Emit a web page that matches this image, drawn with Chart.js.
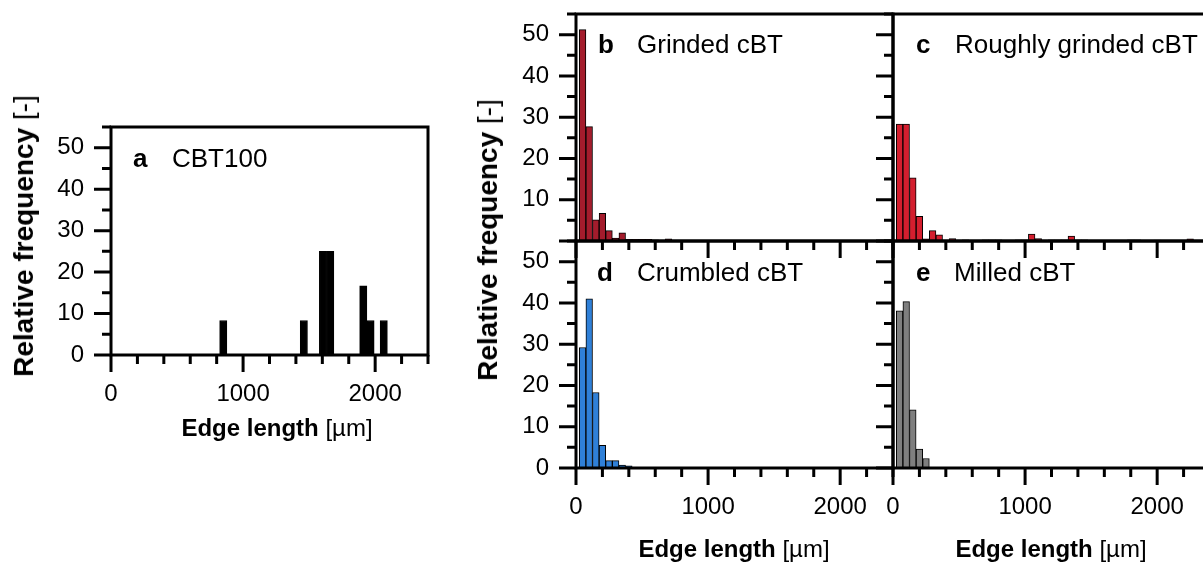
<!DOCTYPE html>
<html>
<head>
<meta charset="utf-8">
<script src="https://cdn.jsdelivr.net/npm/chart.js@4/dist/chart.umd.min.js"></script>
<style>
  html, body { margin: 0; padding: 0; width: 1203px; height: 565px; overflow: hidden; background: #fff; }
  canvas { position: absolute; }
  .txt { position: absolute; font-family: "Liberation Sans", Arial, sans-serif; color: #000; white-space: nowrap; line-height: 1; }
  .lbl { font-size: 26px; }
  .xt { font-size: 24px; transform: translateX(-50%); }
  .yt { font-size: 28px; transform: translate(-50%, -50%) rotate(-90deg); }
  b { font-weight: bold; }
</style>
</head>
<body>
<canvas id="chartA" width="460" height="378" style="left:0px; top:82px;"></canvas>
<canvas id="chartB" width="420" height="317" style="left:500px; top:-31px;"></canvas>
<canvas id="chartC" width="380" height="317" style="left:860px; top:-31px;"></canvas>
<canvas id="chartD" width="420" height="369" style="left:500px; top:196px;"></canvas>
<canvas id="chartE" width="380" height="369" style="left:860px; top:196px;"></canvas>

<!-- 패널 라벨 -->
<div class="txt lbl" style="left:133px; top:145px;"><b>a</b></div>
<div class="txt lbl" style="left:172px; top:145px;">CBT100</div>
<div class="txt lbl" style="left:598px; top:31px;"><b>b</b></div>
<div class="txt lbl" style="left:637px; top:31px;">Grinded cBT</div>
<div class="txt lbl" style="left:916px; top:31px;"><b>c</b></div>
<div class="txt lbl" style="left:955px; top:31px;">Roughly grinded cBT</div>
<div class="txt lbl" style="left:597px; top:259px;"><b>d</b></div>
<div class="txt lbl" style="left:637px; top:259px;">Crumbled cBT</div>
<div class="txt lbl" style="left:916px; top:259px;"><b>e</b></div>
<div class="txt lbl" style="left:954px; top:259px;">Milled cBT</div>

<!-- 축 제목 -->
<div class="txt xt" style="left:277px; top:416px;"><b>Edge length</b> [µm]</div>
<div class="txt xt" style="left:734px; top:537px;"><b>Edge length</b> [µm]</div>
<div class="txt xt" style="left:1051px; top:537px;"><b>Edge length</b> [µm]</div>
<div class="txt yt" style="left:24px; top:236px;"><b>Relative frequency</b> [-]</div>
<div class="txt yt" style="left:488px; top:240px;"><b>Relative frequency</b> [-]</div>

<script>
// 구간 중심값 [µm] 과 상대빈도 [-]
var edgeA = [850, 1460, 1605, 1660, 1910, 1965, 2065];
var freqA = [8.33, 8.33, 25, 25, 16.67, 8.33, 8.33];

var edgeB = [50, 100, 150, 200, 250, 300, 350, 400, 450, 500, 550, 600, 650, 700];
var freqB = [51.2, 27.7, 5.1, 6.7, 2.5, 0.7, 2.0, 0.4, 0.4, 0.4, 0.4, 0.3, 0, 0.5];

var edgeC = [50, 100, 150, 200, 250, 300, 350, 400, 450, 550, 700, 750, 800, 950, 1000, 1050, 1100,
             1200, 1250, 1300, 1350, 1400, 1450, 1800, 1850, 2000, 2250];
var freqC = [28.3, 28.3, 15.3, 6.0, 0.5, 2.5, 1.5, 0.2, 0.6, 0.3, 0.3, 0.3, 0.3, 0.3, 0.3, 1.7, 0.6,
             0.3, 0.3, 0.3, 1.2, 0.3, 0.3, 0.3, 0.3, 0.2, 0.5];

var edgeD = [50, 100, 150, 200, 250, 300, 350, 400];
var freqD = [29.2, 41.0, 18.3, 5.5, 1.8, 1.8, 0.7, 0.5];

var edgeE = [50, 100, 150, 200, 250];
var freqE = [38.1, 40.3, 14.1, 4.6, 2.3];

// 축 눈금
var xMax = 2400, xStep = 200, xMajor = 1000;
var yMax = 55, yStep = 5, yMajor = 10;

var FONT = '"Liberation Sans", Arial, sans-serif';

// 테두리 상자와 바깥쪽 눈금(주/보조)을 그리는 플러그인
var frameTicks = {
  id: 'frameTicks',
  afterDraw: function (chart) {
    var ctx = chart.ctx;
    var area = chart.chartArea;
    var xs = chart.scales.x;
    var ys = chart.scales.y;
    ctx.save();
    ctx.strokeStyle = '#000';
    ctx.lineWidth = 3;
    ctx.beginPath();
    xs.ticks.forEach(function (t) {
      var px = xs.getPixelForValue(t.value);
      var len = t.value % xMajor === 0 ? 17 : 9;
      ctx.moveTo(px, area.bottom);
      ctx.lineTo(px, area.bottom + len);
    });
    ys.ticks.forEach(function (t) {
      var py = ys.getPixelForValue(t.value);
      var len = t.value % yMajor === 0 ? 17 : 9;
      ctx.moveTo(area.left, py);
      ctx.lineTo(area.left - len, py);
    });
    ctx.stroke();
    ctx.strokeRect(area.left, area.top, area.right - area.left, area.bottom - area.top);
    ctx.restore();
  }
};

// 히스토그램 그리는 함수
// box: 캔버스 안에서 플롯 영역의 여백 (top, right, yWidth, xHeight)
// 눈금 라벨의 padding 이 레이아웃 여백에 더해지므로 top/xHeight 는 45 이상으로 둔다
function createHistogram(chartId, edges, freqs, color, box, showX, showY, showZero) {
  var ctx = document.getElementById(chartId).getContext('2d');

  var points = edges.map(function (e, i) {
    return { x: e, y: freqs[i] };
  });

  new Chart(ctx, {
    type: 'bar',
    data: {
      datasets: [{
        data: points,
        backgroundColor: color,
        borderColor: '#000',
        borderWidth: 1,
        barPercentage: 1.0,
        categoryPercentage: 1.0
      }]
    },
    options: {
      responsive: false,
      animation: false,
      devicePixelRatio: 1,
      layout: {
        padding: { top: box.top, right: box.right, left: 0, bottom: 0 }
      },
      plugins: {
        legend: { display: false },
        tooltip: { enabled: false }
      },
      scales: {
        x: {
          type: 'linear',
          min: 0,
          max: xMax,
          offset: false,
          grid: { display: false, drawTicks: false, offset: false },
          border: { display: false },
          ticks: {
            display: showX,
            stepSize: xStep,
            autoSkip: false,
            maxRotation: 0,
            padding: 25,
            color: '#000',
            font: { family: FONT, size: 24 },
            callback: function (v) {
              return v % xMajor === 0 ? String(v) : '';
            }
          },
          afterFit: function (scale) {
            scale.height = box.xHeight;
          }
        },
        y: {
          min: 0,
          max: yMax,
          grid: { display: false, drawTicks: false },
          border: { display: false },
          ticks: {
            display: showY,
            stepSize: yStep,
            autoSkip: false,
            padding: 27,
            color: '#000',
            font: { family: FONT, size: 24 },
            callback: function (v) {
              if (v === 0 && !showZero) return '';
              return v % yMajor === 0 ? String(v) : '';
            }
          },
          afterFit: function (scale) {
            scale.width = box.yWidth;
          }
        }
      }
    },
    plugins: [frameTicks]
  });
}

createHistogram('chartA', edgeA, freqA, '#000000', { top: 45, right: 32, yWidth: 111, xHeight: 105 }, true, true, true);
createHistogram('chartB', edgeB, freqB, '#a41c2c', { top: 45, right: 27, yWidth: 76, xHeight: 45 }, false, true, false);
createHistogram('chartC', edgeC, freqC, '#d41e2e', { top: 45, right: 30, yWidth: 33, xHeight: 45 }, false, false, false);
createHistogram('chartD', edgeD, freqD, '#2f80d8', { top: 45, right: 27, yWidth: 76, xHeight: 97 }, true, true, true);
createHistogram('chartE', edgeE, freqE, '#7f7f7f', { top: 45, right: 30, yWidth: 33, xHeight: 97 }, true, false, true);
</script>
</body>
</html>
